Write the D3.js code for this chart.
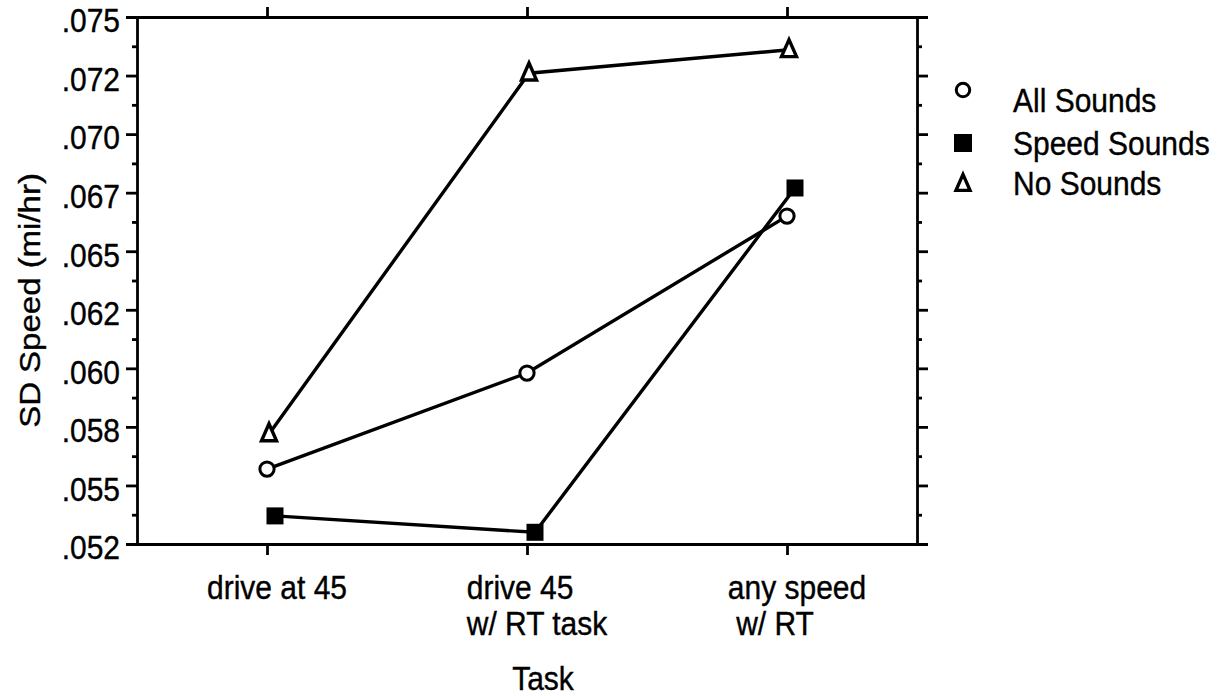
<!DOCTYPE html>
<html>
<head>
<meta charset="utf-8">
<script src="https://cdn.jsdelivr.net/npm/d3@7"></script>
<style>
  body { margin: 0; background: #fff; }
  svg { display: block; font-family: "Liberation Sans", Arial, Helvetica, sans-serif; }
  svg text { fill: #000; stroke: #000; stroke-width: 0.35; }
  .axis path, .axis line { stroke: #000; stroke-width: 2.8; }
  .axis text { font-size: 30px; }
</style>
</head>
<body>
<svg id="chart" width="1231" height="696"></svg>
<script>
// categories (x) and their printed lines
let tasks = ["drive at 45", "drive 45 w/ RT task", "any speed w/ RT"];
let taskLines = [["drive at 45"], ["drive 45", "w/ RT task"], ["any speed", " w/ RT"]];

// series values, SD speed (mi/hr)
let allSounds   = [0.0557, 0.0598, 0.0665];
let speedSounds = [0.0537, 0.0530, 0.0677];
let noSounds    = [0.0572, 0.0726, 0.0736];

// y ticks
let yTicks = [0.0525, 0.055, 0.0575, 0.06, 0.0625, 0.065, 0.0675, 0.07, 0.0725, 0.075];
let yTickLabels = [".052", ".055", ".058", ".060", ".062", ".065", ".067", ".070", ".072", ".075"];

let series = [
  {name: "All Sounds",   values: allSounds,   shape: "circle",   dx: 0},
  {name: "Speed Sounds", values: speedSounds, shape: "square",   dx: 8},
  {name: "No Sounds",    values: noSounds,    shape: "triangle", dx: 2}
];

let svg = d3.select("#chart");
let width = 1231, height = 696;
let margin = {left: 137, top: 17, right: 314, bottom: 152};
let stretch = 1.1; // scanned type is a little taller than it is wide

let x = d3.scalePoint()
  .domain(tasks)
  .range([margin.left, width - margin.right])
  .padding(0.5);

let y = d3.scaleLinear()
  .domain([0.0525, 0.075])
  .range([height - margin.bottom, margin.top]);

let minorTicks = d3.pairs(yTicks).map(([a, b]) => (a + b) / 2);

function label(g, tx, ty, str, size, anchor) {
  return g.append("text")
    .attr("transform", `translate(${tx},${ty}) scale(1,${stretch})`)
    .attr("text-anchor", anchor || "start")
    .attr("font-size", size)
    .attr("xml:space", "preserve")
    .style("white-space", "pre")
    .text(str);
}

// left axis
let gLeft = svg.append("g").attr("class", "axis").attr("transform", `translate(${margin.left},0)`);
gLeft.call(d3.axisLeft(y).tickValues(yTicks).tickSize(11).tickPadding(6)
  .tickFormat((d, i) => yTickLabels[i]));
gLeft.selectAll("text").attr("dy", "0.45em").attr("transform", `scale(1,${stretch})`);
svg.append("g").attr("class", "axis").attr("transform", `translate(${margin.left},0)`)
  .call(d3.axisLeft(y).tickValues(minorTicks).tickSize(5).tickFormat(""))
  .select(".domain").remove();

// right axis
svg.append("g").attr("class", "axis").attr("transform", `translate(${width - margin.right},0)`)
  .call(d3.axisRight(y).tickValues(yTicks).tickSize(11).tickFormat(""));
svg.append("g").attr("class", "axis").attr("transform", `translate(${width - margin.right},0)`)
  .call(d3.axisRight(y).tickValues(minorTicks).tickSize(5).tickFormat(""))
  .select(".domain").remove();

// top axis
svg.append("g").attr("class", "axis").attr("transform", `translate(0,${margin.top})`)
  .call(d3.axisTop(x).tickSize(10).tickSizeOuter(0).tickFormat(""));

// bottom axis
svg.append("g").attr("class", "axis").attr("transform", `translate(0,${height - margin.bottom})`)
  .call(d3.axisBottom(x).tickSize(11).tickSizeOuter(0).tickFormat(""));

// x labels, lines left-aligned, block centred a bit right of the tick
tasks.forEach((t, i) => {
  let texts = taskLines[i].map((ln, j) => label(svg, 0, height - margin.bottom + 55 + j * 36, ln, 30));
  let w = d3.max(texts, n => n.node().getComputedTextLength());
  texts.forEach((n, j) => n.attr("transform",
    `translate(${x(t) + 10 - w / 2},${height - margin.bottom + 55 + j * 36}) scale(1,${stretch})`));
});

// axis titles
label(svg, (margin.left + width - margin.right) / 2 + 16, 690, "Task", 30, "middle");

svg.append("text")
  .attr("transform", `translate(40,${(margin.top + height - margin.bottom) / 2 + 20}) rotate(-90) scale(1.1,1)`)
  .attr("text-anchor", "middle")
  .attr("font-size", 30)
  .text("SD Speed (mi/hr)");

// lines
let line = d3.line();
let mainG = svg.append("g").attr("class", "main");
mainG.selectAll("path.series")
  .data(series)
  .join("path")
    .attr("class", "series")
    .attr("fill", "none")
    .attr("stroke", "#000")
    .attr("stroke-width", 3.4)
    .attr("d", s => line(s.values.map((v, i) => [x(tasks[i]) + s.dx, y(v)])));

function drawShape(g, shape, size) {
  if (shape === "circle") {
    g.append("circle").attr("r", size * 0.42)
      .attr("fill", "#fff").attr("stroke", "#000").attr("stroke-width", 3);
  } else if (shape === "square") {
    g.append("rect").attr("x", -size / 2).attr("y", -size / 2)
      .attr("width", size).attr("height", size).attr("fill", "#000");
  } else {
    let h = size;
    g.append("path")
      .attr("d", `M0,${-h * 0.6}L${size / 2 - 1},${h * 0.4}L${-size / 2 + 1},${h * 0.4}Z`)
      .attr("fill", "#fff").attr("stroke", "#000").attr("stroke-width", 3.4)
      .attr("stroke-linejoin", "miter");
  }
}

// markers
series.forEach(s => {
  s.values.forEach((v, i) => {
    let g = mainG.append("g").attr("transform", `translate(${x(tasks[i]) + s.dx},${y(v)})`);
    drawShape(g, s.shape, 17);
  });
});

// legend
let legend = svg.append("g").attr("class", "legend").attr("transform", "translate(963,90)");
let legendY = [0, 53, 94];
let textY = [22, 65, 105];
series.forEach((s, i) => {
  let g = legend.append("g").attr("transform", `translate(0,${legendY[i]})`);
  drawShape(g, s.shape, s.shape === "square" ? 18 : 16);
  label(legend, 50, textY[i], s.name, 30);
});
</script>
</body>
</html>
